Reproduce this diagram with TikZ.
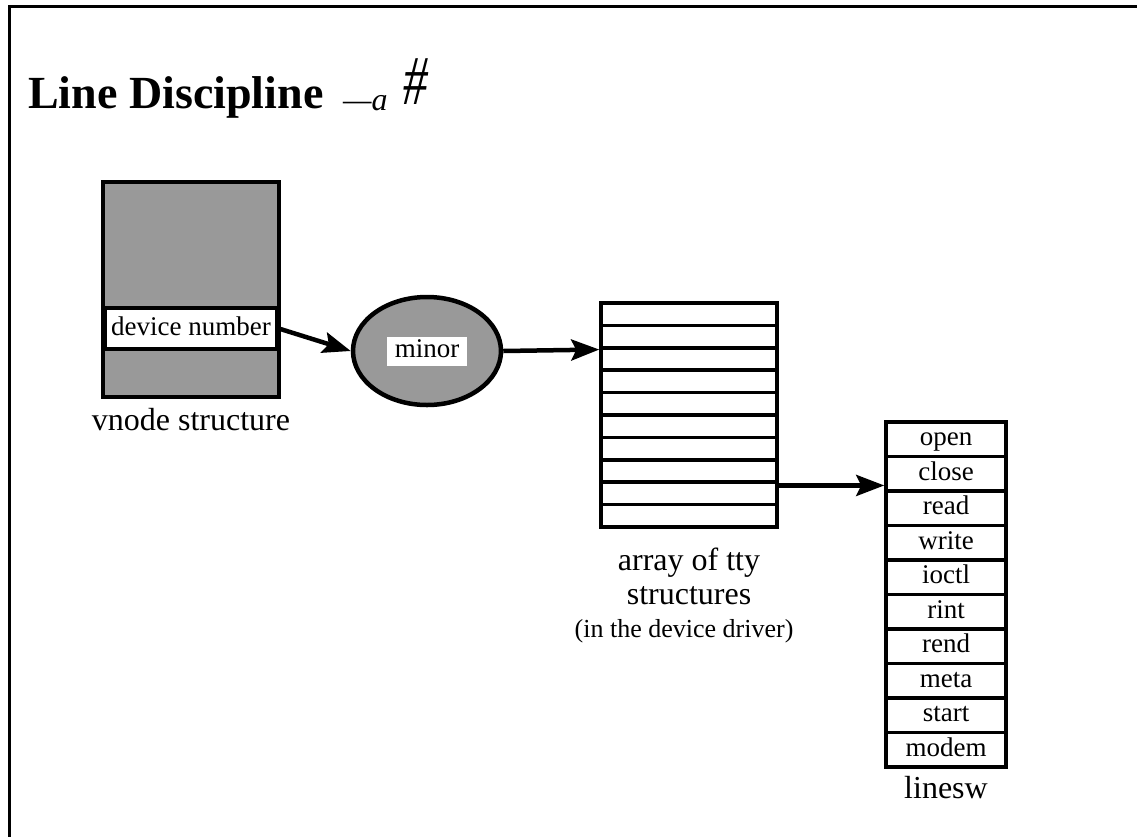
\documentclass[tikz,border=0pt]{standalone}
\usepackage{fontspec}
\setmainfont{Liberation Serif}
\usetikzlibrary{shapes.geometric,arrows.meta,calc}
\begin{document}
\begin{tikzpicture}[x=1pt,y=-1pt,
  shade/.style={fill=black!40},
  box/.style={draw,line width=2.5pt,rectangle,inner sep=0pt},
  row/.style={draw,line width=3.5pt,rectangle,inner sep=0pt,fill=white},
  arr/.style={line width=4.5pt,-{Stealth[length=28pt,width=21pt,inset=5pt]}},
  lbl/.style={font=\fontsize{32}{36}\selectfont,inner sep=0pt},
  fsz/.style={font=\fontsize{27}{30}\selectfont,text height=19pt,text depth=6pt}]
\useasboundingbox (0,0) rectangle (1137,836);
% frame
\draw[line width=3pt] (9,845) -- (9,6) -- (1145,6);
% title
\node[anchor=base west,inner sep=0pt,font=\fontsize{46}{50}\selectfont\bfseries] (title) at (28,108) {Line Discipline};
\node[anchor=base west,inner sep=0pt,font=\fontsize{32}{32}\selectfont\itshape] (hand) at (343,110) {—a};
\node[anchor=base west,inner sep=0pt,font=\fontsize{70}{70}\selectfont\itshape,xscale=0.7] (hash) at (403,104) {\#};
% vnode structure
\node[box,shade,line width=4.5pt,minimum width=176pt,minimum height=215pt] (vnode) at (191,289.5) {};
\node[row,fsz,minimum width=172pt,minimum height=41pt] (dev) at (191,328.5) {device number};
\node[lbl,anchor=base] (vlabel) at (191,430) {vnode structure};
% minor ellipse
\node[ellipse,draw,line width=4.5pt,shade,minimum width=148pt,minimum height=108pt] (minor) at (427,351) {};
\node[fill=white,fsz,inner sep=0pt,minimum width=80pt,minimum height=29pt] (minorlbl) at (minor) {minor};
% tty array
\foreach \i in {0,...,9}{
  \node[row,minimum width=176pt,minimum height=22.4pt] (tty-\i) at (689,{303+22.4*(\i+0.5)}) {};
}
\node[box,line width=4.5pt,minimum width=176pt,minimum height=224pt] (tty) at (689,415) {};
\node[lbl,anchor=base] (t1) at (689,570) {array of tty};
\node[lbl,anchor=base] (t2) at (689,604) {structures};
\node[anchor=base,inner sep=0pt,font=\fontsize{26}{28}\selectfont] (t3) at (684,637) {(in the device driver)};
% linesw
\foreach \n [count=\i from 0] in {open,close,read,write,ioctl,rint,rend,meta,start,modem}{
  \node[row,fsz,minimum width=120pt,minimum height=34.5pt] (ls-\i) at (946,{422+34.5*(\i+0.5)}) {\n};
}
\node[box,line width=4pt,minimum width=120pt,minimum height=345pt] (ls) at (946,594.5) {};
\node[lbl,anchor=base] (lslabel) at (946,798) {linesw};
% arrows
\draw[arr] (dev.east) -- (minor.west);
\draw[arr] (minor.east) -- (tty-1.south west);
\coordinate (a3) at ($(tty-8.north east)+(0,5)$);
\draw[arr] (a3) -- (a3 -| ls-1.west);
\end{tikzpicture}
\end{document}
